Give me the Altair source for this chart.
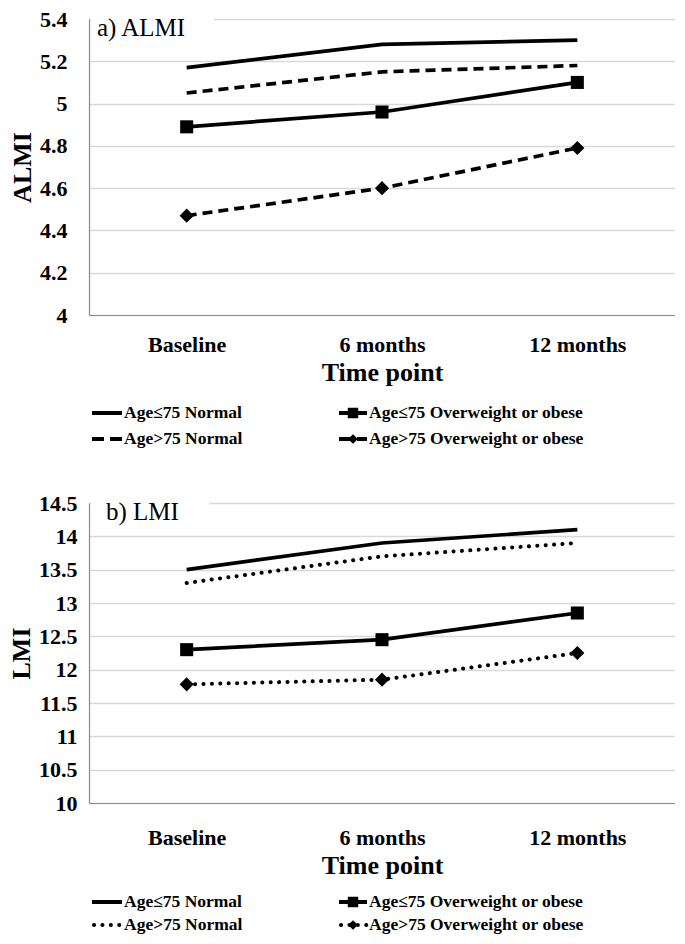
import altair as alt
import pandas as pd

times = ["Baseline", "6 months", "12 months"]
series_names = [
    "Age≤75 Normal",
    "Age≤75 Overweight or obese",
    "Age>75 Normal",
    "Age>75 Overweight or obese",
]

# a) ALMI
almi_le75_normal = [5.17, 5.28, 5.30]
almi_le75_ow = [4.89, 4.96, 5.10]
almi_gt75_normal = [5.05, 5.15, 5.18]
almi_gt75_ow = [4.47, 4.60, 4.79]
almi_ticks = [4, 4.2, 4.4, 4.6, 4.8, 5, 5.2, 5.4]

# b) LMI
lmi_le75_normal = [13.5, 13.9, 14.1]
lmi_le75_ow = [12.3, 12.45, 12.85]
lmi_gt75_normal = [13.3, 13.7, 13.9]
lmi_gt75_ow = [11.78, 11.85, 12.25]
lmi_ticks = [10, 10.5, 11, 11.5, 12, 12.5, 13, 13.5, 14, 14.5]

FONT = "Liberation Serif"
SOLID = None
DASHED = [10, 6]
DOTTED = [0.1, 8.3]


def panel(values, dashes, shapes, ticks, ytitle, label, w, h, xlab_pad,
          ylab_pad, legend_rows, legend_cols, mask_w, label_x):
    xenc = alt.X(
        "time:N", sort=times, title="Time point",
        axis=alt.Axis(labelAngle=0, labelPadding=xlab_pad, titlePadding=4,
                      ticks=False, grid=False, domainColor="#8a8a8a",
                      domainWidth=1.2),
    )
    yenc = alt.Y(
        "value:Q", title=ytitle,
        scale=alt.Scale(domain=[ticks[0], ticks[-1]], nice=False, zero=False),
        axis=alt.Axis(values=ticks, format="~g", ticks=False, grid=True,
                      gridColor="#d9d9d9", gridWidth=1.3, domainColor="#8a8a8a",
                      domainWidth=1.2, labelPadding=ylab_pad, titlePadding=4),
    )
    layers = []
    for name, vals, dash, shape in zip(series_names, values, dashes, shapes):
        df = pd.DataFrame({"time": times, "value": vals, "series": name})
        kw = dict(color="black", strokeWidth=3.7)
        if dash is not None:
            kw["strokeDash"] = dash
            if dash == DOTTED:
                kw["strokeCap"] = "round"
                kw["strokeWidth"] = 4
        layers.append(alt.Chart(df).mark_line(**kw).encode(x=xenc, y=yenc))
        if shape is not None:
            size = 170 if shape == "square" else 200
            layers.append(
                alt.Chart(df).mark_point(shape=shape, filled=True, color="black",
                                         size=size, opacity=1)
                .encode(x=xenc, y=yenc)
            )
    # mask behind panel label + label
    lab_df = pd.DataFrame({"label": [label]})
    layers.append(
        alt.Chart(lab_df).mark_rect(color="white")
        .encode(x=alt.value(2), x2=alt.value(mask_w), y=alt.value(-3), y2=alt.value(18))
    )
    layers.append(
        alt.Chart(lab_df).mark_text(font=FONT, fontSize=25, align="left",
                                    baseline="middle", color="black")
        .encode(text="label:N", x=alt.value(label_x), y=alt.value(9))
    )
    # manual legend
    for i, (name, dash, shape) in enumerate(zip(series_names, dashes, shapes)):
        row = i // 2
        col = i % 2
        x0, x1 = legend_cols[col]
        yy = legend_rows[row]
        ldf = pd.DataFrame({"label": [name]})
        kw = dict(color="black", strokeWidth=4)
        sx0 = x0
        if dash is not None:
            kw["strokeDash"] = [12, 6] if dash == DASHED else dash
            if dash == DOTTED:
                kw["strokeCap"] = "round"
                sx0 = x0 + 2
        layers.append(
            alt.Chart(ldf).mark_rule(**kw)
            .encode(x=alt.value(sx0), x2=alt.value(x1), y=alt.value(yy))
        )
        if shape is not None:
            layers.append(
                alt.Chart(ldf).mark_point(shape=shape, filled=True, color="black",
                                          size=110 if shape == "square" else 95,
                                          opacity=1)
                .encode(x=alt.value((x0 + x1) / 2), y=alt.value(yy))
            )
        layers.append(
            alt.Chart(ldf).mark_text(font=FONT, fontSize=17.5, fontWeight="bold",
                                     align="left", baseline="middle", color="black")
            .encode(text="label:N", x=alt.value(x1 + 2), y=alt.value(yy))
        )
    return alt.layer(*layers).properties(width=w, height=h)


top = panel(
    [almi_le75_normal, almi_le75_ow, almi_gt75_normal, almi_gt75_ow],
    [SOLID, SOLID, DASHED, DASHED],
    [None, "square", None, "diamond"],
    almi_ticks, "ALMI", "a) ALMI", 586, 296, 19, 22,
    legend_rows=[394, 420], legend_cols=[(3, 33), (250, 278)], mask_w=125,
    label_x=8,
)
bottom = panel(
    [lmi_le75_normal, lmi_le75_ow, lmi_gt75_normal, lmi_gt75_ow],
    [SOLID, SOLID, DOTTED, DOTTED],
    [None, "square", None, "diamond"],
    lmi_ticks, "LMI", "b) LMI", 586, 300, 24, 12,
    legend_rows=[399, 422], legend_cols=[(3, 33), (250, 278)], mask_w=120,
    label_x=17,
)

chart = (
    alt.concat(top, bottom, columns=1, spacing=44)
    .properties(padding=0)
    .configure_view(stroke=None)
    .configure_axis(
        labelFont=FONT, labelFontWeight="bold", labelFontSize=22, labelColor="black",
        titleFont=FONT, titleFontWeight="bold", titleFontSize=26, titleColor="black",
    )
)

chart.save("out.html", embed_options={"renderer": "svg", "actions": False})
